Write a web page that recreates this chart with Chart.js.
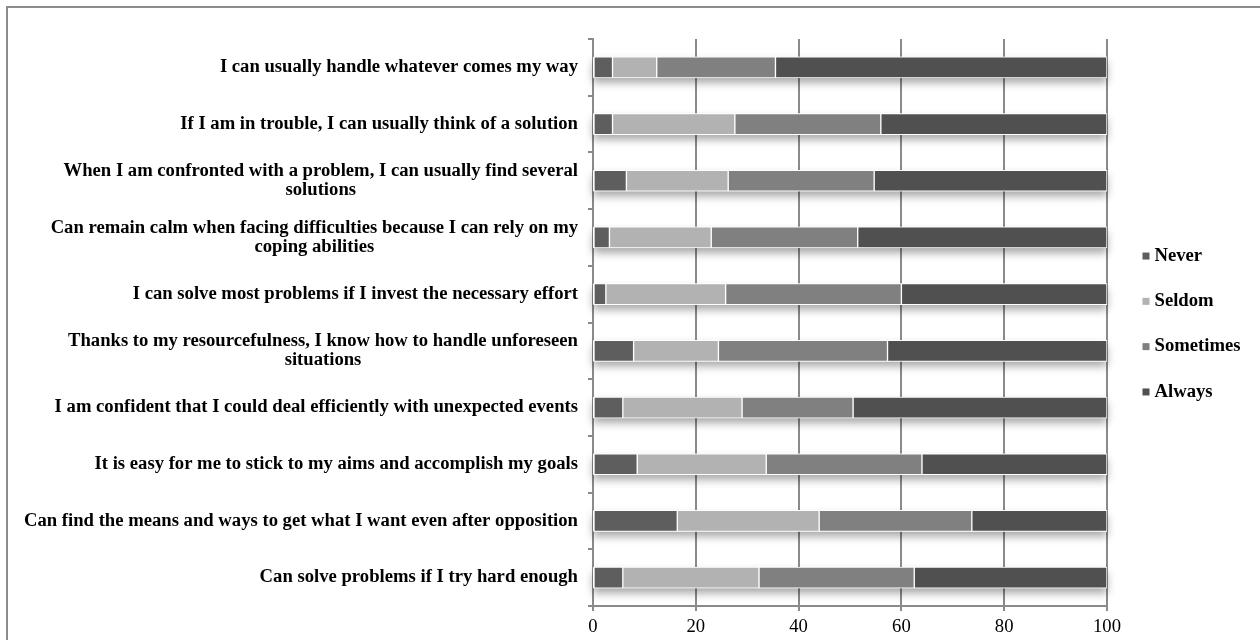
<!DOCTYPE html>
<html>
<head>
<meta charset="utf-8">
<script src="https://cdn.jsdelivr.net/npm/chart.js@4.4.0/dist/chart.umd.min.js"></script>
<style>
  html, body { margin: 0; padding: 0; background: #fff; overflow: hidden; }
  #wrap { position: relative; width: 1260px; height: 640px; }
  #frame { position: absolute; left: 6px; top: 6px; width: 1300px; height: 700px;
           border-top: 2px solid #8c8c8c; border-left: 2px solid #8c8c8c; }
  canvas { position: absolute; left: 0; top: 0; }
</style>
</head>
<body>
<div id="wrap">
  <div id="frame"></div>
  <canvas id="myChart" width="1260" height="640"></canvas>
</div>
<script>
const htmlChart = document.getElementById('myChart');

// statements, top to bottom
const labels = [
  'I can usually handle whatever comes my way',
  'If I am in trouble, I can usually think of a solution',
  ['When I am confronted with a problem, I can usually find several', 'solutions'],
  ['Can remain calm when facing difficulties because I can rely on my', 'coping abilities'],
  'I can solve most problems if I invest the necessary effort',
  ['Thanks to my resourcefulness, I know how to handle unforeseen', 'situations'],
  'I am confident that I could deal efficiently with unexpected events',
  'It is easy for me to stick to my aims and accomplish my goals',
  'Can find the means and ways to get what I want even after opposition',
  'Can solve problems if I try hard enough'
];

// percent answers
const never     = [3.8, 3.8, 6.5, 3.2, 2.5, 7.9, 5.8, 8.6, 16.4, 5.8];
const seldom    = [8.6, 23.8, 19.8, 19.8, 23.3, 16.5, 23.2, 25.1, 27.6, 26.5];
const sometimes = [23.1, 28.4, 28.4, 28.5, 34.2, 32.9, 21.6, 30.3, 29.7, 30.2];
const always    = [64.5, 44.0, 45.3, 48.5, 40.0, 42.7, 49.4, 36.0, 26.3, 37.5];

const xTicks = [0, 20, 40, 60, 80, 100];

const serif = '"Liberation Serif", "Times New Roman", serif';
const fontPx = 18.67; // 14pt

// soft shadow under each whole bar, drawn before the bars
const shadowPlugin = {
  id: 'barShadow',
  beforeDatasetsDraw(chart) {
    const ctx = chart.ctx;
    const meta = chart.getDatasetMeta(0);
    const x0 = chart.scales.x.getPixelForValue(0);
    const x1 = chart.scales.x.getPixelForValue(100);
    ctx.save();
    ctx.shadowColor = 'rgba(0,0,0,0.35)';
    ctx.shadowBlur = 8;
    ctx.shadowOffsetY = 5;
    ctx.fillStyle = '#fff';
    meta.data.forEach(bar => {
      const h = bar.height;
      ctx.fillRect(x0, bar.y - h / 2, x1 - x0, h);
    });
    ctx.restore();
  }
};

// category labels: right aligned block, wrapped lines centred like Excel does
const yLabelPlugin = {
  id: 'yLabels',
  afterDraw(chart) {
    const ctx = chart.ctx;
    const yScale = chart.scales.y;
    const right = yScale.right - 15;
    const lh = 18.5;
    ctx.save();
    ctx.font = 'bold ' + fontPx + 'px ' + serif;
    ctx.fillStyle = '#000';
    ctx.textAlign = 'center';
    ctx.textBaseline = 'middle';
    labels.forEach((lbl, i) => {
      const lines = Array.isArray(lbl) ? lbl : [lbl];
      const w = Math.max(...lines.map(l => ctx.measureText(l).width));
      const cx = right - w / 2;
      const y = yScale.getPixelForValue(i);
      lines.forEach((l, j) => {
        ctx.fillText(l, cx, y + (j - (lines.length - 1) / 2) * lh);
      });
    });
    ctx.restore();
  }
};

// legend at the right, markers + bold names, centred on the plot
const legendPlugin = {
  id: 'rightLegend',
  afterDraw(chart) {
    const ctx = chart.ctx;
    const area = chart.chartArea;
    const sets = chart.data.datasets;
    const step = 45.3;
    const mx = area.right + 35.5;
    const midY = (area.top + area.bottom) / 2 + 1.5;
    ctx.save();
    ctx.font = 'bold ' + fontPx + 'px ' + serif;
    ctx.textAlign = 'left';
    ctx.textBaseline = 'middle';
    sets.forEach((ds, i) => {
      const y = midY + (i - (sets.length - 1) / 2) * step;
      ctx.fillStyle = ds.backgroundColor;
      ctx.fillRect(mx, y - 3.5, 7, 7);
      ctx.fillStyle = '#000';
      ctx.fillText(ds.label, mx + 12, y);
    });
    ctx.restore();
  }
};

const data = {
  labels: labels,
  datasets: [
    { label: 'Never',     data: never,     backgroundColor: '#5e5e5e' },
    { label: 'Seldom',    data: seldom,    backgroundColor: '#b2b2b2' },
    { label: 'Sometimes', data: sometimes, backgroundColor: '#808080' },
    { label: 'Always',    data: always,    backgroundColor: '#505050' }
  ].map(d => Object.assign(d, {
    borderColor: '#fff',
    borderWidth: 1,
    borderSkipped: false,
    barThickness: 21
  }))
};

const config = {
  type: 'bar',
  data: data,
  options: {
    indexAxis: 'y',
    responsive: false,
    animation: false,
    layout: { padding: { top: 39, right: 153, bottom: 0, left: 0 } },
    scales: {
      x: {
        stacked: true,
        min: 0,
        max: 100,
        afterBuildTicks: s => { s.ticks = xTicks.map(v => ({ value: v })); },
        afterFit: s => { s.height = 34; },
        ticks: { color: '#000', font: { family: serif, size: fontPx }, padding: 5 },
        grid: { color: '#8a8a8a', lineWidth: 2, tickLength: 5, drawTicks: true },
        border: { color: '#8a8a8a', width: 2 }
      },
      y: {
        stacked: true,
        afterFit: s => { s.width = 593; },
        ticks: { display: false },
        grid: { offset: true, drawOnChartArea: false, color: '#8a8a8a', lineWidth: 2, tickLength: 5 },
        border: { color: '#8a8a8a', width: 2 }
      }
    },
    plugins: {
      legend: { display: false },
      tooltip: { enabled: false }
    }
  },
  plugins: [shadowPlugin, yLabelPlugin, legendPlugin]
};

// lager diagrammet
new Chart(htmlChart, config);
</script>
</body>
</html>
